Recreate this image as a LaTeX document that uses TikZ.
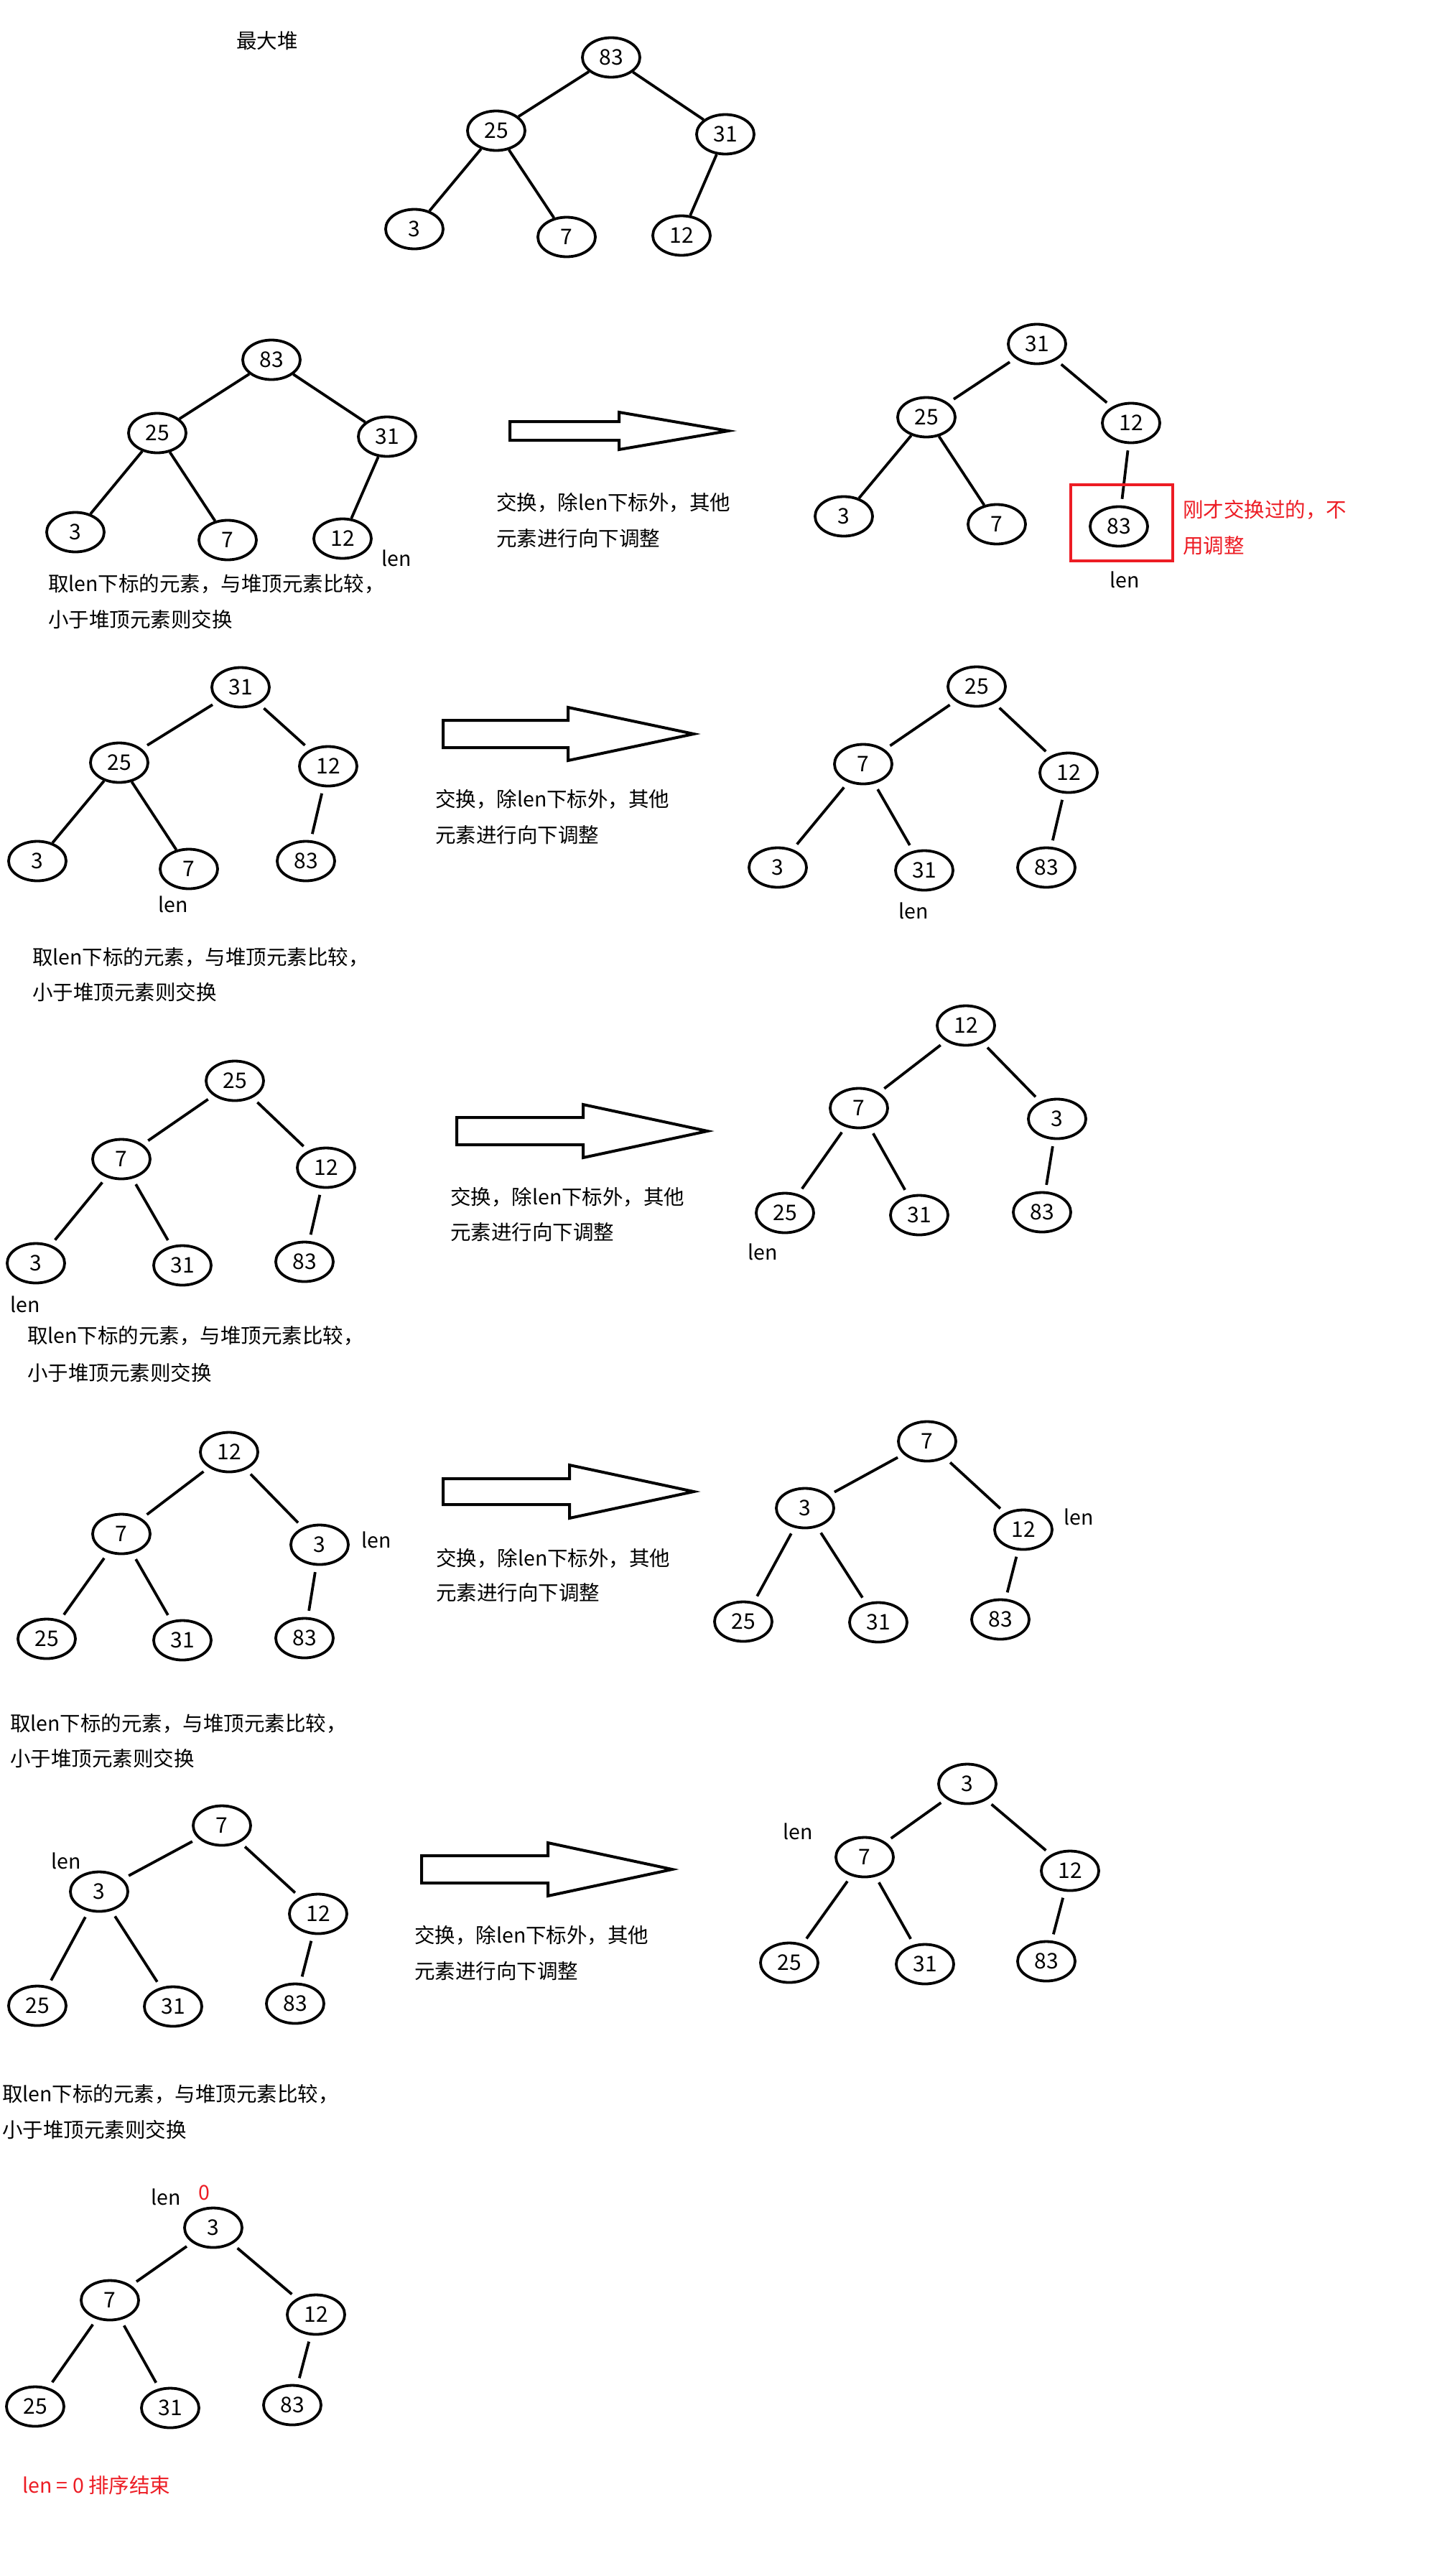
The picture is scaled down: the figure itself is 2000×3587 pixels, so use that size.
\documentclass[tikz,border=0pt]{standalone}
\usepackage{fontspec}
\setmainfont{Noto Sans CJK SC}
\usetikzlibrary{shapes.geometric}
\definecolor{redc}{RGB}{237,28,36}
\newcommand{\blockarrow}[6]{%
  \draw[arrowline] (#1,#4-#5) -- (#2,#4-#5) -- (#2,#4-#6) -- (#3,#4) -- (#2,#4+#6) -- (#2,#4+#5) -- (#1,#4+#5) -- cycle;}
\begin{document}
\begin{tikzpicture}[x=1pt,y=-1pt,
  hn/.style={ellipse, draw, line width=3.8pt, minimum width=80pt, minimum height=55pt, inner sep=0pt, font=\fontsize{30}{36}\selectfont},
  edg/.style={line width=3.8pt},
  brk/.style={edg, shorten <=9pt, shorten >=9pt},
  txt/.style={anchor=west, inner sep=0pt, font=\fontsize{28.5}{34}\selectfont},
  lbl/.style={inner sep=0pt, font=\fontsize{28.5}{34}\selectfont},
  arrowline/.style={line width=4pt, line join=miter},
]
\useasboundingbox (0,0) rectangle (2000,3587);
\fill[white] (0,0) rectangle (2000,3587);

% ---------- Tree 0: max heap ----------
\node[lbl] (title) at (372,57) {最大堆};
\node[hn] (a1) at (851,80) {83};
\node[hn] (a2) at (691,182) {25};
\node[hn] (a3) at (1010,187) {31};
\node[hn] (a4) at (577,319) {3};
\node[hn] (a5) at (789,330) {7};
\node[hn] (a6) at (949,328) {12};
\draw[edg] (a1) -- (a2); \draw[edg] (a1) -- (a3);
\draw[edg] (a2) -- (a4); \draw[edg] (a2) -- (a5); \draw[edg] (a3) -- (a6);

% ---------- Row 1 left ----------
\node[hn] (b1) at (378,501) {83};
\node[hn] (b2) at (219,603) {25};
\node[hn] (b3) at (539,608) {31};
\node[hn] (b4) at (105,741) {3};
\node[hn] (b5) at (317,752) {7};
\node[hn] (b6) at (477,750) {12};
\draw[edg] (b1) -- (b2); \draw[edg] (b1) -- (b3);
\draw[edg] (b2) -- (b4); \draw[edg] (b2) -- (b5); \draw[edg] (b3) -- (b6);
\node[lbl] (blen) at (552,777) {len};
\node[txt] (bt1) at (67,813) {取len下标的元素，与堆顶元素比较，};
\node[txt] (bt2) at (67,863) {小于堆顶元素则交换};
\blockarrow{710}{862}{1014}{600}{13}{26}
\node[txt] (bs1) at (691,700) {交换，除len下标外，其他};
\node[txt] (bs2) at (691,750) {元素进行向下调整};

% ---------- Row 1 right ----------
\node[hn] (c1) at (1444,479) {31};
\node[hn] (c2) at (1290,581) {25};
\node[hn] (c3) at (1575,589) {12};
\node[hn] (c4) at (1175,719) {3};
\node[hn] (c5) at (1388,730) {7};
\node[hn] (c6) at (1558,733) {83};
\draw[brk] (c1) -- (c2); \draw[brk] (c1) -- (c3);
\draw[edg] (c2) -- (c4); \draw[edg] (c2) -- (c5); \draw[brk] (c3) -- (c6);
\draw[redc, line width=4.5pt] (1491,675) rectangle (1633,781);
\node[txt, text=redc] (cr1) at (1647,710) {刚才交换过的，不};
\node[txt, text=redc] (cr2) at (1647,760) {用调整};
\node[lbl] (clen) at (1566,807) {len};

% ---------- Row 2 left ----------
\node[hn] (d1) at (335,957) {31};
\node[hn] (d2) at (166,1062) {25};
\node[hn] (d3) at (457,1067) {12};
\node[hn] (d4) at (52,1199) {3};
\node[hn] (d5) at (263,1210) {7};
\node[hn] (d6) at (426,1199) {83};
\draw[brk] (d1) -- (d2); \draw[brk] (d1) -- (d3);
\draw[edg] (d2) -- (d4); \draw[edg] (d2) -- (d5); \draw[brk] (d3) -- (d6);
\node[lbl] (dlen) at (241,1259) {len};
\node[txt] (dt1) at (45,1333) {取len下标的元素，与堆顶元素比较，};
\node[txt] (dt2) at (45,1382) {小于堆顶元素则交换};
\blockarrow{617}{791}{966}{1022}{19}{37}
\node[txt] (ds1) at (606,1113) {交换，除len下标外，其他};
\node[txt] (ds2) at (606,1163) {元素进行向下调整};

% ---------- Row 2 right ----------
\node[hn] (e1) at (1360,956) {25};
\node[hn] (e2) at (1202,1064) {7};
\node[hn] (e3) at (1488,1076) {12};
\node[hn] (e4) at (1083,1208) {3};
\node[hn] (e5) at (1287,1212) {31};
\node[hn] (e6) at (1457,1208) {83};
\draw[brk] (e1) -- (e2); \draw[brk] (e1) -- (e3);
\draw[brk] (e2) -- (e4); \draw[brk] (e2) -- (e5); \draw[brk] (e3) -- (e6);
\node[lbl] (elen) at (1272,1268) {len};

% ---------- Row 3 left ----------
\node[hn] (f1) at (327,1505) {25};
\node[hn] (f2) at (169,1614) {7};
\node[hn] (f3) at (454,1626) {12};
\node[hn] (f4) at (50,1759) {3};
\node[hn] (f5) at (254,1762) {31};
\node[hn] (f6) at (424,1757) {83};
\draw[brk] (f1) -- (f2); \draw[brk] (f1) -- (f3);
\draw[brk] (f2) -- (f4); \draw[brk] (f2) -- (f5); \draw[brk] (f3) -- (f6);
\node[lbl] (flen) at (35,1816) {len};
\node[txt] (ft1) at (38,1860) {取len下标的元素，与堆顶元素比较，};
\node[txt] (ft2) at (38,1912) {小于堆顶元素则交换};
\blockarrow{636}{812}{985}{1575}{19}{37}
\node[txt] (fs1) at (627,1667) {交换，除len下标外，其他};
\node[txt] (fs2) at (627,1716) {元素进行向下调整};

% ---------- Row 3 right ----------
\node[hn] (g1) at (1345,1428) {12};
\node[hn] (g2) at (1196,1543) {7};
\node[hn] (g3) at (1472,1558) {3};
\node[hn] (g4) at (1093,1689) {25};
\node[hn] (g5) at (1280,1692) {31};
\node[hn] (g6) at (1451,1688) {83};
\draw[brk] (g1) -- (g2); \draw[brk] (g1) -- (g3);
\draw[brk] (g2) -- (g4); \draw[brk] (g2) -- (g5); \draw[brk] (g3) -- (g6);
\node[lbl] (glen) at (1062,1743) {len};

% ---------- Row 4 left ----------
\node[hn] (h1) at (319,2022) {12};
\node[hn] (h2) at (169,2136) {7};
\node[hn] (h3) at (445,2151) {3};
\node[hn] (h4) at (65,2282) {25};
\node[hn] (h5) at (254,2284) {31};
\node[hn] (h6) at (424,2281) {83};
\draw[brk] (h1) -- (h2); \draw[brk] (h1) -- (h3);
\draw[brk] (h2) -- (h4); \draw[brk] (h2) -- (h5); \draw[brk] (h3) -- (h6);
\node[lbl] (hlen) at (524,2144) {len};
\node[txt] (ht1) at (14,2400) {取len下标的元素，与堆顶元素比较，};
\node[txt] (ht2) at (14,2449) {小于堆顶元素则交换};
\blockarrow{617}{793}{966}{2077}{18}{37}
\node[txt] (hs1) at (607,2170) {交换，除len下标外，其他};
\node[txt] (hs2) at (607,2218) {元素进行向下调整};

% ---------- Row 4 right ----------
\node[hn] (i1) at (1291,2007) {7};
\node[hn] (i2) at (1121,2100) {3};
\node[hn] (i3) at (1425,2130) {12};
\node[hn] (i4) at (1035,2258) {25};
\node[hn] (i5) at (1223,2259) {31};
\node[hn] (i6) at (1393,2255) {83};
\draw[brk] (i1) -- (i2); \draw[brk] (i1) -- (i3);
\draw[brk] (i2) -- (i4); \draw[brk] (i2) -- (i5); \draw[brk] (i3) -- (i6);
\node[lbl] (ilen) at (1502,2112) {len};

% ---------- Row 5 left ----------
\node[hn] (j1) at (309,2542) {7};
\node[hn] (j2) at (138,2634) {3};
\node[hn] (j3) at (443,2665) {12};
\node[hn] (j4) at (52,2793) {25};
\node[hn] (j5) at (241,2794) {31};
\node[hn] (j6) at (411,2790) {83};
\draw[brk] (j1) -- (j2); \draw[brk] (j1) -- (j3);
\draw[brk] (j2) -- (j4); \draw[brk] (j2) -- (j5); \draw[brk] (j3) -- (j6);
\node[lbl] (jlen) at (92,2591) {len};
\node[txt] (jt1) at (3,2916) {取len下标的元素，与堆顶元素比较，};
\node[txt] (jt2) at (3,2966) {小于堆顶元素则交换};
\blockarrow{587}{763}{936}{2603}{19}{37}
\node[txt] (js1) at (577,2695) {交换，除len下标外，其他};
\node[txt] (js2) at (577,2745) {元素进行向下调整};

% ---------- Row 5 right ----------
\node[hn] (k1) at (1347,2484) {3};
\node[hn] (k2) at (1204,2586) {7};
\node[hn] (k3) at (1490,2605) {12};
\node[hn] (k4) at (1099,2733) {25};
\node[hn] (k5) at (1288,2735) {31};
\node[hn] (k6) at (1457,2731) {83};
\draw[brk] (k1) -- (k2); \draw[brk] (k1) -- (k3);
\draw[brk] (k2) -- (k4); \draw[brk] (k2) -- (k5); \draw[brk] (k3) -- (k6);
\node[lbl] (klen) at (1111,2550) {len};

% ---------- Row 6 ----------
\node[hn] (l1) at (297,3102) {3};
\node[hn] (l2) at (153,3203) {7};
\node[hn] (l3) at (440,3223) {12};
\node[hn] (l4) at (49,3351) {25};
\node[hn] (l5) at (237,3353) {31};
\node[hn] (l6) at (407,3349) {83};
\draw[brk] (l1) -- (l2); \draw[brk] (l1) -- (l3);
\draw[brk] (l2) -- (l4); \draw[brk] (l2) -- (l5); \draw[brk] (l3) -- (l6);
\node[lbl] (llen) at (231,3059) {len};
\node[lbl, text=redc] (lzero) at (284,3053) {0};
\node[txt, text=redc] (lend) at (31,3461) {len = 0 排序结束};
\end{tikzpicture}
\end{document}
